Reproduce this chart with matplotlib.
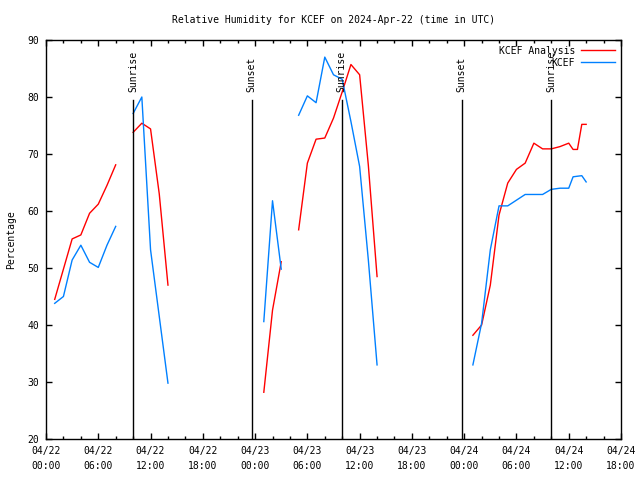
import matplotlib
matplotlib.use("Agg")
import matplotlib.pyplot as plt
import numpy as np

# hours since 2024-04-22 00:00 UTC; NaN breaks the line where data is missing
hours = [1, 2, 3, 4, 5, 6, 7, 8, np.nan,
         10, 11, 12, 13, 14, np.nan,
         25, 26, 27, np.nan,
         29, 30, 31, 32, 33, 34, 35, 36, 37, 38, np.nan,
         49, 50, 51, 52, 53, 54, 55, 56, 57, 58, 59, 60, 60.5, 61, 61.5, 62]

analysis = [44.5, 49.8, 55.1, 55.8, 59.6, 61.2, 64.5, 68.1, np.nan,
            73.8, 75.4, 74.4, 63.0, 47.0, np.nan,
            28.2, 42.6, 51.1, np.nan,
            56.7, 68.4, 72.6, 72.8, 76.3, 80.9, 85.7, 83.9, 68.0, 48.5, np.nan,
            38.2, 40.0, 47.0, 59.3, 64.9, 67.3, 68.4, 71.9, 70.9, 70.9, 71.3, 71.9, 70.8, 70.8, 75.2, 75.2]

observed = [43.8, 45.0, 51.4, 54.0, 51.0, 50.1, 54.0, 57.3, np.nan,
            77.1, 80.0, 53.2, 41.5, 29.8, np.nan,
            40.6, 61.8, 49.8, np.nan,
            76.8, 80.2, 79.0, 87.0, 83.9, 83.1, 75.7, 67.8, 51.4, 33.0, np.nan,
            33.0, 40.3, 53.2, 60.9, 60.9, 61.9, 62.9, 62.9, 62.9, 63.8, 64.0, 64.0, 66.0, 66.1, 66.2, 65.1]

sun_hours = [10.0, 23.6, 33.95, 47.7, 58.0]
sun_labels = ["Sunrise", "Sunset", "Sunrise", "Sunset", "Sunrise"]

tick_hours = list(range(0, 67, 6))
tick_labels = ["04/22\n00:00", "04/22\n06:00", "04/22\n12:00", "04/22\n18:00",
               "04/23\n00:00", "04/23\n06:00", "04/23\n12:00", "04/23\n18:00",
               "04/24\n00:00", "04/24\n06:00", "04/24\n12:00", "04/24\n18:00"]

plt.rcParams['font.family'] = ['DejaVu Sans Mono']
plt.rcParams['font.size'] = 7

fig = plt.figure(figsize=(6.4, 4.8), dpi=100)
ax = fig.add_axes([46 / 640, 41 / 480, 575 / 640, 399 / 480])

ax.plot(hours, analysis, color='#ff0000', lw=1, label='KCEF Analysis')
ax.plot(hours, observed, color='#0080ff', lw=1, label='KCEF')

for h, lab in zip(sun_hours, sun_labels):
    ax.plot([h, h], [0, 0.85], color='black', lw=1, transform=ax.get_xaxis_transform())
    ax.text(h, 0.87, lab, rotation=90, ha='center', va='bottom',
            transform=ax.get_xaxis_transform())

ax.set_xlim(0, 66)
ax.set_ylim(20, 90)
ax.set_xticks(tick_hours)
ax.set_xticklabels(tick_labels, linespacing=1.6)
ax.set_xticks(np.arange(0, 67, 2), minor=True)
ax.set_yticks(range(20, 91, 10))
ax.tick_params(which='both', direction='in', top=True, right=True, width=1)
ax.tick_params(which='major', length=4, pad=5)
ax.tick_params(which='minor', length=2)
ax.tick_params(axis='y', pad=5)
for s in ax.spines.values():
    s.set_linewidth(1)

ax.set_ylabel('Percentage', labelpad=8)
ax.set_title('Relative Humidity for KCEF on 2024-Apr-22 (time in UTC)', fontsize=7, pad=12)

ax.legend(loc='upper right', frameon=False, markerfirst=False, handlelength=3.5,
          borderaxespad=0.2, labelspacing=0.2, handletextpad=0.6)

fig.savefig('out.png', dpi=100)
